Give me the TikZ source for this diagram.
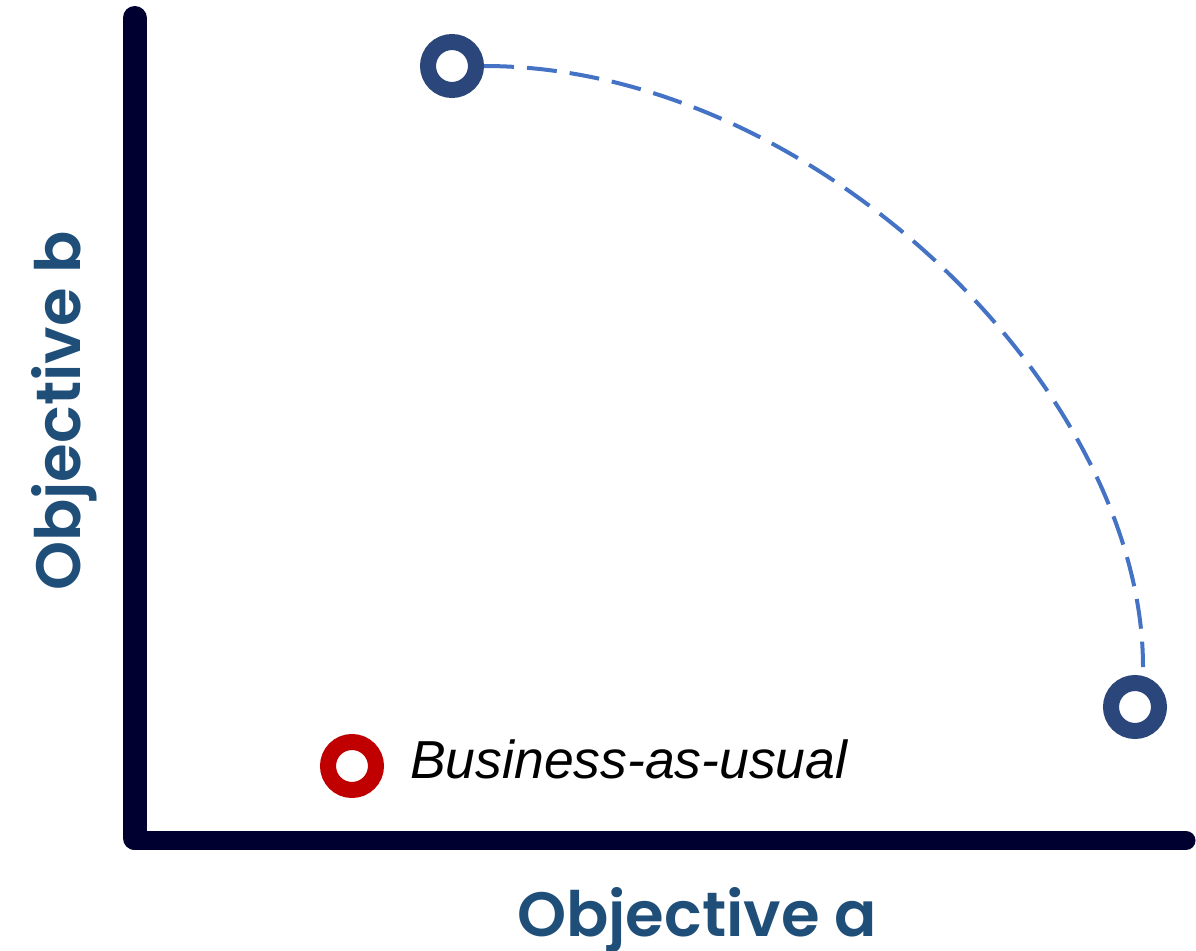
\documentclass[tikz,border=0pt]{standalone}
\usepackage{fontspec}
\setmainfont{Liberation Sans}
\newfontfamily\axisfont{Poppins}[BoldFont={* SemiBold}]

\definecolor{axisnavy}{RGB}{0,0,48}
\definecolor{labelblue}{RGB}{31,78,121}
\definecolor{ringblue}{RGB}{42,70,122}
\definecolor{arcblue}{RGB}{68,114,196}
\definecolor{baured}{RGB}{192,0,0}

\begin{document}
\begin{tikzpicture}[x=1bp, y=-1bp,
    axis/.style={draw=axisnavy, line cap=round},
    ring/.style={circle, draw, line width=16bp, minimum size=48bp, inner sep=0pt},
    axislabel/.style={text=labelblue, inner sep=0pt,
      font=\axisfont\bfseries\fontsize{62.5bp}{72bp}\selectfont},
    front/.style={draw=arcblue, line width=4bp, dash pattern=on 30bp off 13bp}]
    \useasboundingbox (0,0) rectangle (1196,951);

    % axes
    \draw[axis, line width=24bp] (134.5,18) -- (134.5,838);
    \draw[axis, line width=19bp] (134.5,840.5) -- (1186,840.5);

    \node[axislabel, anchor=base] (xlabel) at (697,936) {Objective a};
    \node[axislabel, anchor=base, rotate=90] (ylabel) at (80,411) {Objective b};

    % the two extreme options and the baseline
    \node[ring, draw=ringblue] (optb) at (452,66) {};
    \node[ring, draw=ringblue] (opta) at (1135,707) {};
    \node[ring, draw=baured] (bau) at (352,766) {};
    \node[anchor=base west, inner sep=0pt,
      font=\itshape\fontsize{53.5bp}{60bp}\selectfont] (baulabel) at (410,778) {Business-as-usual};

    % trade-off front
    \draw[front] (optb.east) .. controls +(330,0) and +(0,-277) .. ([xshift=8bp,yshift=8bp]opta.north);
\end{tikzpicture}
\end{document}
